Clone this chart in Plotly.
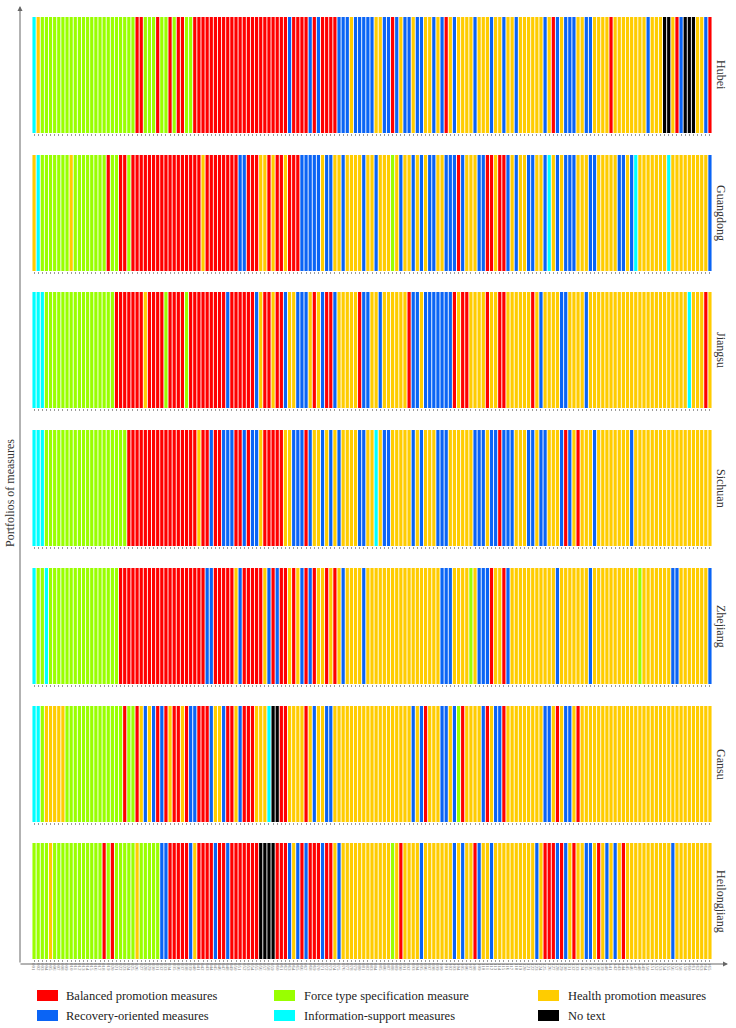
import plotly.graph_objects as go

# ---------------- data (one code per bar) ----------------
# B = Balanced promotion, R = Recovery-oriented, F = Force type specification,
# I = Information-support, H = Health promotion, N = No text
PROVINCES = ["Hubei", "Guangdong", "Jiangsu", "Sichuan", "Zhejiang", "Gansu", "Heilongjiang"]

HUBEI = ("IHFFFFFFFF FFFFFFFFFF FFFFFBBFFF BFFBFBBFFB BBBBBBBBBB BBBBBBBBBB "
         "BBRBBBBRBR BBBBRRRHRR RRRHHRRBRH RRHRRHHRHR BHRHHHHRHH HRHHRHHRHH "
         "HHHHRHBRHR RRHHRRHHHH BHHHHHHHHR HHHNNHBRNN NHHRB")
GUANGDONG = ("HIFFFFFFFH FFFFFFFFBF FBBFBBBBBB BBBBBBBBBB BHBBBBBBBB RRBBBHHBHB "
             "BHBBBRRRRR HRRHHRHHHH RHHRHHHFHR HHRHRHRRHH RRRBRHHHRR BBHBBRHRHH "
             "RRHHRIHRHR RRHHHRRHHH HHRRHRIHHH HHHHIHHHHH HHHHR")
JIANGSU = ("IIIFFFFFFF FFFFFFFFFF BBBBBBBHBB BBFBBBBFBB BBBBBBBRBB BBBBRHBBHB "
           "BRHHRRRHBH RBBRHHHHHB RRHHRHHHHH HBRRHRRRRR RRBHBBHHHH BHHBBHHHHH "
           "HBHRHHHHRR HHHHRHHHHH HHHHHHHHHH HHHHHHHHHI HHHBH")
SICHUAN = ("IIIFFFFFFF FFFFFFFFFF FFFBBBBBBB BBBBBBBBBB HBBRBBRRRB BRBRRHBBBB "
           "BHHRRRBRHH RHRHRHHHHR RHHIHRRHHH HHRHRHHHRR RHHHHHHRRR HRRBRRRHHH "
           "RRHRRHHHRB RHBHHHRHHH HHHHHRHHHH HHHHHHHHHH HHHHH")
ZHEJIANG = ("IFFIFFFFFF FFFFFFFFFF FBBBBBBBBB BBBBBBBBBB BBRRBBBBBH RBBBBBHRBR "
            "BBHBHRBRBH HBHBHRHHHH RHHHHHHHHH HHHHHHHHHR RRHHHHFHRR RBHHBRHHHH "
            "HHHHHHHRHH HHHHHRHHHH HHHHHHHFHH HHHHHRRHHH HHHHR")
GANSU = ("IIFHHHHHFF FFFFFFFFFF FFBFFBHRHR BRBHBBHBRR BBBRHHRBBH RBBBHHHINN "
         "BBHHHHBHRH HRRHHHHHHH HHHHHHHHHH HHRHRBHHHR RHRFBHHHHR BHRRBHHHHH "
         "HHHHRRHBHR RHBHHHHHHH HHHHHHHHHH HHHHHHHHHH HHHHH")
HEILONGJIANG = ("FFFFHFFFFF FFFFFFFBFB FFFFFHFFFF FRRBBBBBRH BBBBRBBRBB BBBBBNNNNB "
                "BBRHRBRBBB RBBHRHHHHH HHHHHHHFHB HHHHRHHHHH HHRHRHHBRH HRHHHHHHHH "
                "HHRHBBBRBR HBHHRRHBHR HRHBHHHHHH HHHHHRHHHH HHHHH")

SERIES = [HUBEI, GUANGDONG, JIANGSU, SICHUAN, ZHEJIANG, GANSU, HEILONGJIANG]

LEGEND_ORDER = ["B", "F", "H", "R", "I", "N"]
LEGEND_NAMES = {
    "B": "Balanced promotion measures",
    "R": "Recovery-oriented measures",
    "F": "Force type specification measure",
    "I": "Information-support measures",
    "H": "Health promotion measures",
    "N": "No text",
}

# ---------------- styles ----------------
COLORS = {"B": "#FF0000", "R": "#0A64F5", "F": "#99FF00", "I": "#00FFFF", "H": "#FFCC00", "N": "#000000"}
FONT = "Times New Roman, Liberation Serif, serif"
W, H = 736, 1028
X0, X1 = 32, 712
TOPS = [17, 155, 292, 430, 568, 706, 843]
PANEL_H = 116

fig = go.Figure()
layout = {}
for k, (prov, raw) in enumerate(zip(PROVINCES, SERIES)):
    codes = list("".join(raw.split()))
    n = len(codes)
    xs = list(range(1, n + 1))
    sfx = "" if k == 0 else str(k + 1)
    fig.add_trace(go.Bar(
        x=xs, y=[1] * n,
        marker=dict(color=[COLORS[c] for c in codes], line=dict(width=0)),
        xaxis="x" + sfx, yaxis="y" + sfx, showlegend=False,
        hovertext=[LEGEND_NAMES[c] for c in codes], hoverinfo="x+text",
    ))
    top = TOPS[k]
    last = (k == len(PROVINCES) - 1)
    layout["xaxis" + sfx] = dict(
        domain=[X0 / W, X1 / W], range=[0.5, n + 0.5], anchor="y" + sfx,
        tickmode="array", tickvals=xs, ticktext=[f"{v:03d}" for v in xs],
        ticks="outside", ticklen=2, tickwidth=1, tickcolor="#9a9a9a",
        showticklabels=last, tickangle=90,
        tickfont=dict(size=5, color="#777", family=FONT),
        showgrid=False, zeroline=False, showline=False, fixedrange=True,
    )
    layout["yaxis" + sfx] = dict(
        domain=[1 - (top + PANEL_H) / H, 1 - top / H], range=[0, 1],
        anchor="x" + sfx, visible=False, fixedrange=True,
    )

annotations = []
for k, prov in enumerate(PROVINCES):
    annotations.append(dict(
        x=721 / W, y=1 - (TOPS[k] + PANEL_H / 2) / H, xref="paper", yref="paper",
        text=prov, showarrow=False, textangle=90, xanchor="center", yanchor="middle",
        font=dict(family=FONT, size=12, color="#333"),
    ))

annotations.append(dict(
    x=10 / W, y=1 - 493 / H, xref="paper", yref="paper", text="Portfolios of measures",
    showarrow=False, textangle=-90, xanchor="center", yanchor="middle",
    font=dict(family=FONT, size=12, color="#333"),
))

# axis arrows
annotations.append(dict(x=20 / W, y=1 - 6 / H, xref="paper", yref="paper", text="",
                        showarrow=True, arrowhead=2, arrowsize=1, arrowwidth=1,
                        arrowcolor="#666", ax=0, ay=958))
annotations.append(dict(x=728 / W, y=1 - 964 / H, xref="paper", yref="paper", text="",
                        showarrow=True, arrowhead=2, arrowsize=1, arrowwidth=1,
                        arrowcolor="#666", ax=-709, ay=0))

# manual legend
shapes = []
col_sw = [37, 274, 538]
col_tx = [64, 302, 566]
row_y = [990, 1010]
for j, code in enumerate(LEGEND_ORDER):
    r, c = divmod(j, 3)
    shapes.append(dict(type="rect", xref="paper", yref="paper",
                       x0=col_sw[c] / W, x1=(col_sw[c] + 21) / W,
                       y0=1 - (row_y[r] + 11) / H, y1=1 - row_y[r] / H,
                       fillcolor=COLORS[code], line=dict(width=0)))
    annotations.append(dict(x=col_tx[c] / W, y=1 - (row_y[r] + 5.5) / H, xref="paper", yref="paper",
                            text=LEGEND_NAMES[code], showarrow=False, xanchor="left", yanchor="middle",
                            font=dict(family=FONT, size=12.5, color="#222")))

fig.update_layout(
    width=W, height=H, margin=dict(l=0, r=0, t=0, b=0),
    paper_bgcolor="white", plot_bgcolor="white",
    bargap=0.22, showlegend=False,
    annotations=annotations, shapes=shapes, **layout,
)

fig.write_html("out.html", config={"displayModeBar": False},
               post_script="document.body.style.margin='0';document.body.style.overflow='hidden';")
